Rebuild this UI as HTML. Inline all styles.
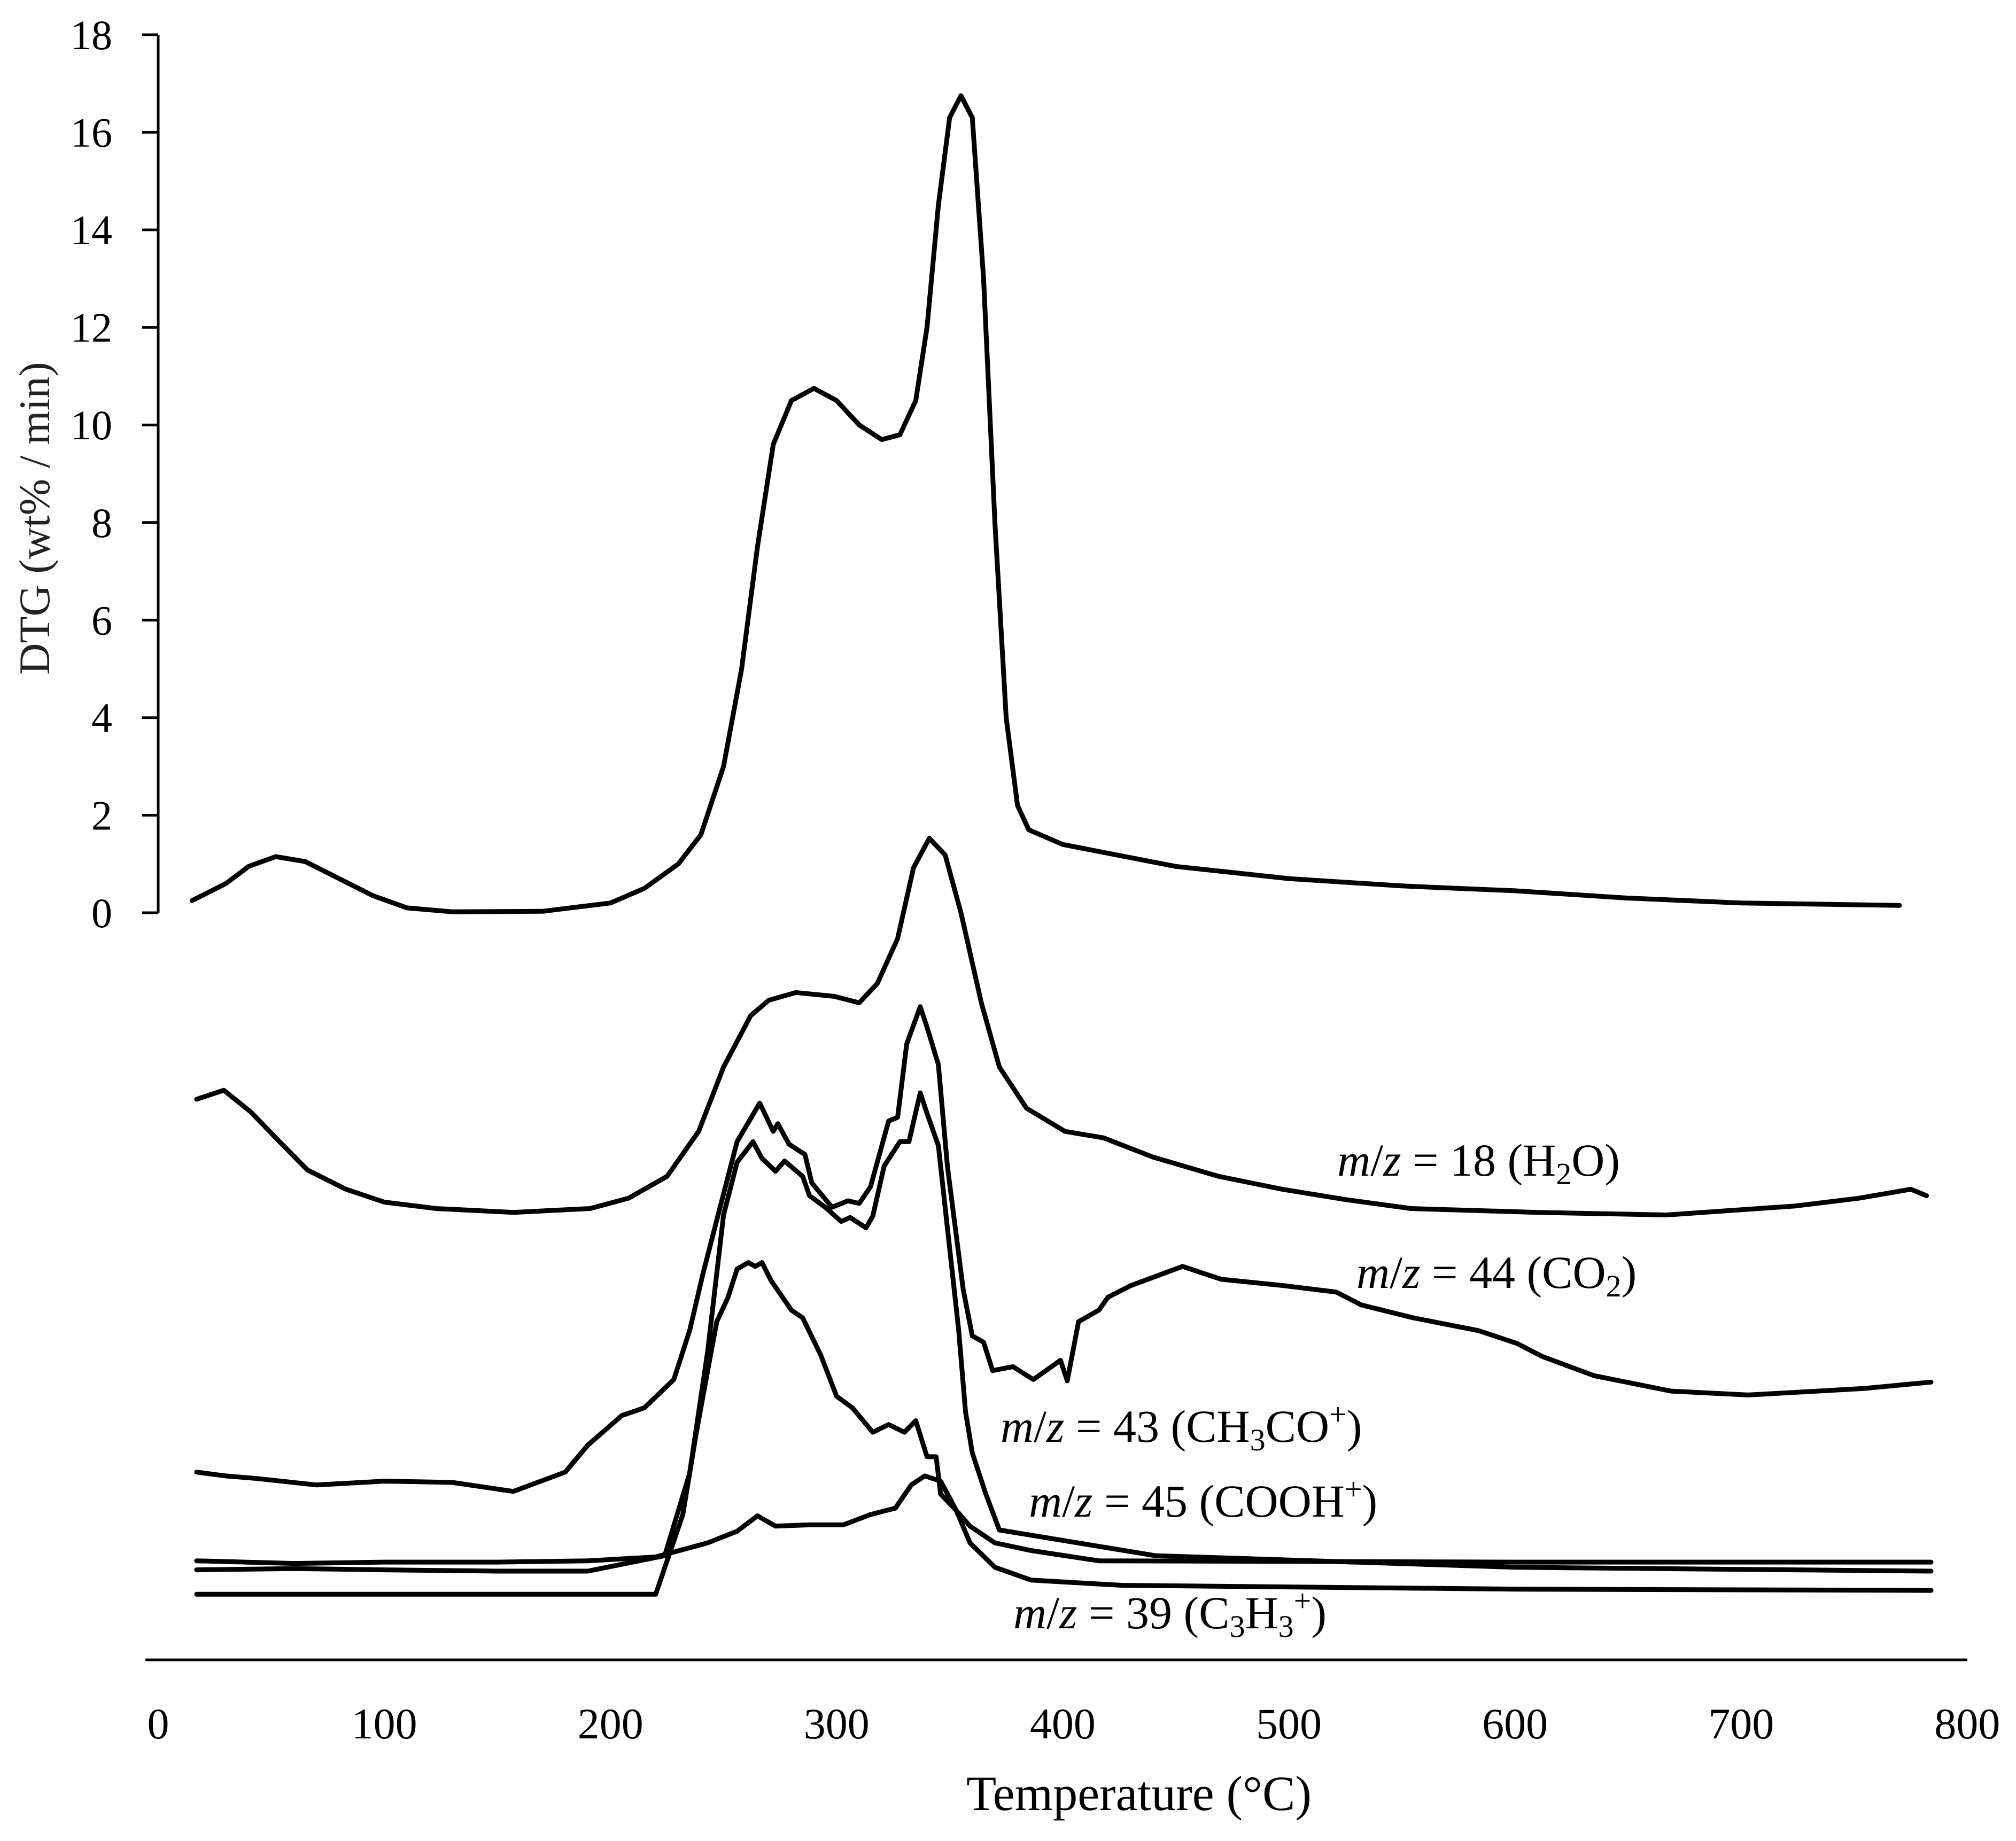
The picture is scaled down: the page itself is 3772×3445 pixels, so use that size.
<!DOCTYPE html>
<html><head><meta charset="utf-8">
<style>html,body{margin:0;padding:0;background:#fff}svg{display:block}text{font-family:"Liberation Serif",serif;fill:#000}</style>
</head><body>
<svg id="chart" width="3772" height="3445" viewBox="0 0 3772 3445" xmlns="http://www.w3.org/2000/svg">
<g id="axes"></g>
<g id="series"></g>
<text transform="translate(92,970) rotate(-90)" text-anchor="middle" font-size="82" style="fill:#222">DTG (wt% / min)</text>
<text x="2131" y="3387" text-anchor="middle" font-size="92">Temperature (°C)</text>
<text x="2502" y="2200" font-size="86"><tspan font-style="italic">m</tspan>/<tspan font-style="italic">z</tspan> = 18 (H<tspan font-size="58" dy="16">2</tspan><tspan dy="-16">O)</tspan></text>
<text x="2538" y="2410" font-size="86"><tspan font-style="italic">m</tspan>/<tspan font-style="italic">z</tspan> = 44 (CO<tspan font-size="58" dy="16">2</tspan><tspan dy="-16">)</tspan></text>
<text x="1872" y="2698" font-size="86"><tspan font-style="italic">m</tspan>/<tspan font-style="italic">z</tspan> = 43 (CH<tspan font-size="58" dy="16">3</tspan><tspan dy="-16">CO</tspan><tspan font-size="58" dy="-32">+</tspan><tspan dy="32">)</tspan></text>
<text x="1925" y="2838" font-size="86"><tspan font-style="italic">m</tspan>/<tspan font-style="italic">z</tspan> = 45 (COOH<tspan font-size="58" dy="-32">+</tspan><tspan dy="32">)</tspan></text>
<text x="1896" y="3047" font-size="86"><tspan font-style="italic">m</tspan>/<tspan font-style="italic">z</tspan> = 39 (C<tspan font-size="58" dy="16">3</tspan><tspan dy="-16">H</tspan><tspan font-size="58" dy="16">3</tspan><tspan font-size="58" dy="-48">+</tspan><tspan dy="32">)</tspan></text>
</svg>
<script>
const xTicks=[0,100,200,300,400,500,600,700,800];
const yTicks=[0,2,4,6,8,10,12,14,16,18];
const dtgT=[15,30,40,52,65,80,95,110,130,170,200,215,230,240,250,258,265,272,280,290,300,310,320,328,335,340,345,350,355,360,365,370,375,380,385,400,450,500,550,600,650,700,770];
const dtgV=[0.25,0.6,0.95,1.15,1.05,0.7,0.35,0.1,0.02,0.03,0.2,0.5,1.0,1.6,3.0,5,7.5,9.6,10.5,10.75,10.5,10.0,9.7,9.8,10.5,12,14.5,16.3,16.75,16.3,13,8,4,2.2,1.7,1.4,0.95,0.7,0.55,0.45,0.3,0.2,0.15];
const h2oT=[17,29,41,52,66,83,100,123,157,191,208,225,239,250,262,270,282,299,310,318,327,334,341,348,355,364,372,384,401,418,440,469,497,525,554,610,667,724,752,775,782];
const h2oS=[43.6,44.3,42.6,40.6,38.1,36.6,35.6,35.1,34.8,35.1,35.9,37.6,41.1,46.1,50.1,51.3,51.9,51.6,51.1,52.6,56.1,61.6,63.9,62.6,58.1,51.1,46.1,42.9,41.1,40.6,39.1,37.6,36.6,35.8,35.1,34.8,34.6,35.3,35.9,36.6,36.1];
const co2T=[17,30,44,70,100,130,157,180,190,205,215,228,235,241,247,256,266,272,274,279,286,289,298,305,310,315,323,327,331,337,340,345,349,356,360,365,369,378,387,399,402,407,416,420,430,453,470,498,521,532,555,584,601,612,635,669,703,754,784];
const co2S=[14.6,14.3,14.1,13.6,13.9,13.8,13.1,14.6,16.7,19,19.6,21.8,25.6,30.1,34.2,40.3,43.3,41.1,41.7,40.1,39.3,37.1,35.2,35.7,35.5,36.8,41.9,42.2,47.9,50.8,49.2,46.3,38.4,28.8,25.2,24.7,22.5,22.8,21.8,23.3,21.7,26.3,27.2,28.2,29.1,30.6,29.6,29.1,28.6,27.6,26.6,25.6,24.6,23.6,22.1,20.9,20.6,21.1,21.6];
const m43T=[17,60,100,150,190,224,235,243,250,256,263,267,273,277,285,288,295,302,306,313,316,321,328,332,337,340,345,349,354,357,360,366,372,441,600,784];
const m43S=[7.0,7.1,7.0,6.9,6.9,8.1,14.5,24,34.6,38.7,40.3,39,38,38.8,37.6,36.1,35.2,34.1,34.4,33.6,34.5,38.4,40.3,40.3,44.1,42.5,40,33.6,25.6,19.3,16.1,12.9,10.1,8.1,7.2,6.9];
const m45T=[17,100,215,220,232,238,243,247,252,256,261,264,267,271,280,285,293,300,307,316,323,330,335,340,344,346,353,359,370,386,416,600,784];
const m45S=[5.1,5.1,5.1,5.1,11.3,17.7,22.5,26.3,28.2,30.4,30.9,30.6,30.9,29.5,27.2,26.6,23.7,20.5,19.6,17.7,18.3,17.7,18.6,15.8,15.8,12.9,11.6,10.4,9.1,8.5,7.7,7.6,7.6];
const m39T=[17,60,100,150,190,220,243,256,265,273,288,303,315,326,333,339,346,353,359,370,386,426,600,784];
const m39S=[7.7,7.5,7.6,7.6,7.7,8,9.1,10,11.2,10.4,10.5,10.5,11.3,11.8,13.6,14.3,13.9,11.6,9.1,7.2,6.2,5.8,5.5,5.4];

const NS='http://www.w3.org/2000/svg';
const xs=t=>296+t*4.231;
const yDtg=v=>1708-v*91.28;
const yMs=s=>3106-s*24.06;
const axes=document.getElementById('axes');
const series=document.getElementById('series');
function mk(tag,attrs,parent){const e=document.createElementNS(NS,tag);for(const k in attrs)e.setAttribute(k,attrs[k]);parent.appendChild(e);return e;}
let e=mk('line',{x1:296,y1:65,x2:296,y2:1708,stroke:'#000','stroke-width':5},axes);


e=mk('line',{x1:272,y1:3106,x2:3681,y2:3106,stroke:'#000','stroke-width':5},axes);


yTicks.forEach(v=>{
  const y=yDtg(v);
  const t=mk('line',{x1:266,y1:y,x2:296,y2:y,stroke:'#000','stroke-width':5},axes);
  
  
  const l=mk('text',{x:210,y:y+27,'text-anchor':'end','font-size':78},axes);
  l.textContent=v;
  
  
});
xTicks.forEach(v=>{
  const l=mk('text',{x:xs(v),y:3253,'text-anchor':'middle','font-size':82},axes);
  l.textContent=v;
  
  
});
function draw(T,V,yf,name){
  const d=T.map((t,i)=>(i?'L':'M')+xs(t).toFixed(1)+','+yf(V[i]).toFixed(1)).join(' ');
  const p=mk('path',{d:d,fill:'none',stroke:'#000','stroke-width':9,'stroke-linejoin':'round','stroke-linecap':'round'},series);
  
  
}
draw(dtgT,dtgV,yDtg,'dtg-curve');
draw(h2oT,h2oS,yMs,'ms-h2o-curve');
draw(co2T,co2S,yMs,'ms-co2-curve');
draw(m43T,m43S,yMs,'ms-ch3co-curve');
draw(m45T,m45S,yMs,'ms-cooh-curve');
draw(m39T,m39S,yMs,'ms-c3h3-curve');
</script>
</body></html>
